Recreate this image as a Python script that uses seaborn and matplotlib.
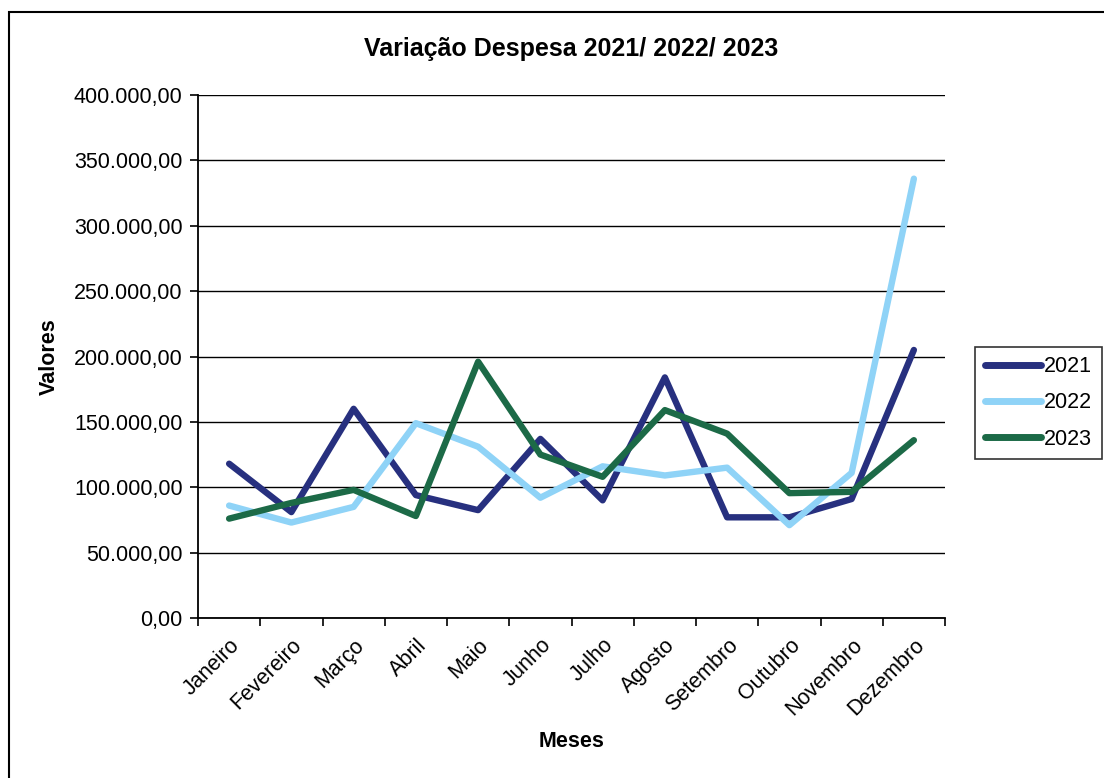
import matplotlib
matplotlib.use("Agg")
import matplotlib.pyplot as plt
import pandas as pd
import seaborn as sns
from matplotlib.patches import Rectangle
from matplotlib.ticker import FixedLocator, FuncFormatter

months = ["Janeiro", "Fevereiro", "Março", "Abril", "Maio", "Junho",
          "Julho", "Agosto", "Setembro", "Outubro", "Novembro", "Dezembro"]
years = ["2021", "2022", "2023"]
despesa_2021 = [118000, 81000, 160000, 94000, 82500, 137000,
                90000, 184000, 77000, 77000, 91000, 205000]
despesa_2022 = [86000, 73000, 85000, 149000, 131000, 92000,
                116000, 109000, 115000, 71000, 111000, 336000]
despesa_2023 = [76000, 88000, 98000, 78000, 196000, 125000,
                108000, 159000, 141000, 95500, 96500, 136000]
colors = ["#27307f", "#8fd3f7", "#1c6a47"]

df = pd.DataFrame({
    "Meses": months * 3,
    "Valores": despesa_2021 + despesa_2022 + despesa_2023,
    "Ano": [y for y in years for _ in months],
})

sns.set_theme(style="white")
plt.rcParams["font.family"] = ["Liberation Sans", "DejaVu Sans"]
plt.rcParams["text.color"] = "black"
plt.rcParams["axes.labelcolor"] = "black"
plt.rcParams["xtick.color"] = "black"
plt.rcParams["ytick.color"] = "black"

fig = plt.figure(figsize=(11.04, 7.78), dpi=100)
ax = fig.add_axes([198 / 1104, 160 / 778, 747 / 1104, 523 / 778])

sns.lineplot(data=df, x="Meses", y="Valores", hue="Ano", palette=colors,
             linewidth=4.6, sort=False, ax=ax, legend=False)

ax.set_xlim(-0.5, 11.5)
ax.set_ylim(0, 400000)
ax.set_yticks(range(0, 400001, 50000))
ax.yaxis.set_major_formatter(FuncFormatter(
    lambda v, _: f"{v:,.2f}".replace(",", "X").replace(".", ",").replace("X", ".")))
ax.grid(axis="y", color="black", linewidth=1.0)
ax.set_axisbelow(True)

ax.set_xticks(range(len(months)))
ax.set_xticklabels(months, rotation=45, ha="right", rotation_mode="anchor")
ax.xaxis.set_minor_locator(FixedLocator([i - 0.5 for i in range(len(months) + 1)]))
ax.tick_params(axis="x", which="major", length=0, pad=12, labelsize=15.5)
ax.tick_params(axis="x", which="minor", length=6, width=1.2, color="black", direction="out")
ax.tick_params(axis="y", length=6, width=1.2, color="black", direction="out", labelsize=15.5, pad=5)
ax.tick_params(bottom=True, left=True, which="both")

for side in ["top", "right"]:
    ax.spines[side].set_visible(False)
for side in ["left", "bottom"]:
    ax.spines[side].set_color("black")
    ax.spines[side].set_linewidth(1.3)

ax.set_xlabel("Meses", fontsize=15.5, fontweight="bold", labelpad=8)
ax.set_ylabel("Valores", fontsize=15.5, fontweight="bold", labelpad=10)
ax.set_title("Variação Despesa 2021/ 2022/ 2023", fontsize=18, fontweight="bold", pad=28)

handles = [plt.Line2D([], [], color=c, linewidth=5, solid_capstyle="round") for c in colors]
leg = fig.legend(handles, years, loc="center left", bbox_to_anchor=(975 / 1104, 1 - 403 / 778),
                 fontsize=15.5, frameon=True, fancybox=False, handlelength=2.6,
                 handletextpad=0.15, borderpad=0.45, labelspacing=0.7, borderaxespad=0)
leg.get_frame().set_edgecolor("black")
leg.get_frame().set_linewidth(1.2)

fig.patches.append(Rectangle((9 / 1104, -0.1), 1.2, 1 - 12 / 778 + 0.1, transform=fig.transFigure,
                             fill=False, edgecolor="black", linewidth=1.5))

fig.savefig("out.png", dpi=100)
